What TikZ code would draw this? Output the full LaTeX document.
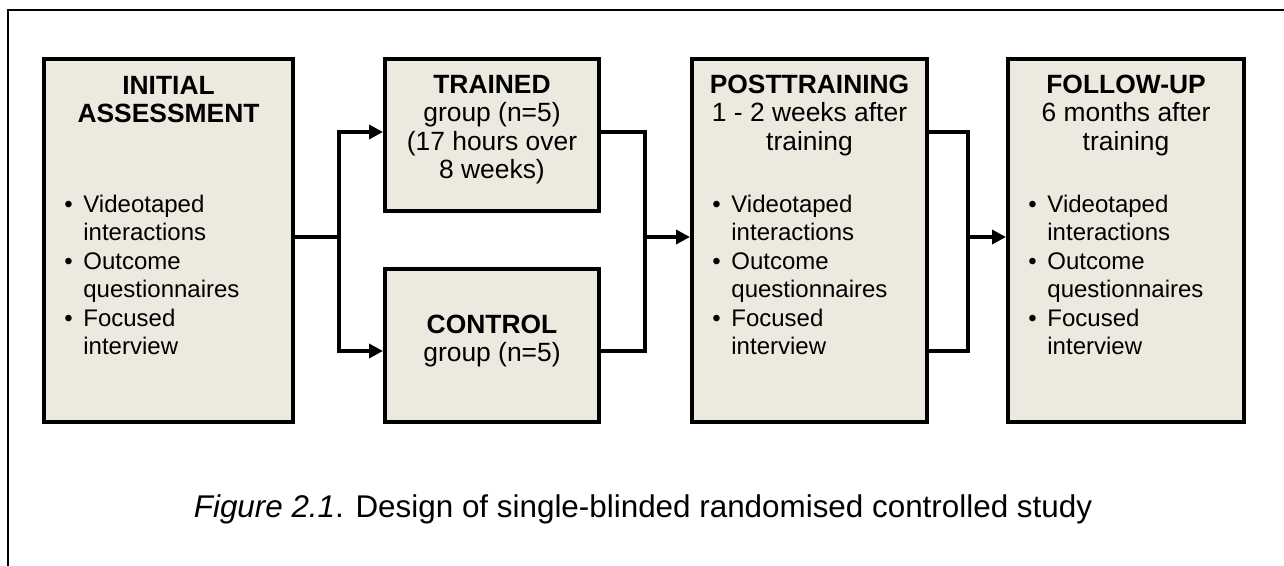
\documentclass[tikz,border=0pt]{standalone}
\usepackage{fontspec}
\setmainfont{Liberation Sans}
\usetikzlibrary{positioning,fit,arrows.meta}
\definecolor{boxfill}{RGB}{236,233,223}
\newcommand{\bitem}[2]{\makebox[9.5pt][l]{\textbullet}#1\\\hspace*{9.5pt}#2}

\begin{document}
\begin{tikzpicture}[x=0.5pt,y=-0.5pt,
  box/.style={draw,line width=2pt,fill=boxfill,inner sep=0pt},
  title/.style={align=center,inner sep=0pt,font=\fontsize{13.2}{14.25}\selectfont},
  points/.style={align=left,inner sep=0pt,font=\fontsize{12}{14.25}\selectfont},
  link/.style={line width=2pt},
  arrow/.style={link,-{Triangle[length=7pt,width=7pt]}}]

  \useasboundingbox (0,0) rectangle (1284,566);
  % frame
  \draw[line width=1pt] (1284,10) -- (8,10) -- (8,566);

  % boxes
  \node[box,fit={(44,59) (293,422)}] (init) {};
  \node[box,fit={(385,59) (599,211)}] (trained) {};
  \node[box,fit={(385,269) (599,422)}] (ctrl) {};
  \node[box,fit={(692,59) (927,422)}] (post) {};
  \node[box,fit={(1008,59) (1244,422)}] (follow) {};

  % titles
  \node[title,below=8.5pt of init.north] (initT)
    {\strut\textbf{INITIAL}\\\textbf{ASSESSMENT}};
  \node[title,below=8pt of trained.north] (trainedT)
    {\strut\textbf{TRAINED}\\group (n=5)\\(17 hours over\\8 weeks)};
  \node[title,below=23pt of ctrl.north] (ctrlT)
    {\strut\textbf{CONTROL}\\group (n=5)};
  \node[title,below=8pt of post.north] (postT)
    {\strut\textbf{POSTTRAINING}\\1 - 2 weeks after\\training};
  \node[title,below=8pt of follow.north] (followT)
    {\strut\textbf{FOLLOW-UP}\\6 months after\\training};

  % bullet lists
  \node[points,below right=67.5pt and 11pt of init.north west] (initL)
    {\strut\bitem{Videotaped}{interactions}\\\bitem{Outcome}{questionnaires}\\\bitem{Focused}{interview}};
  \node[points,below right=67.5pt and 11pt of post.north west] (postL)
    {\strut\bitem{Videotaped}{interactions}\\\bitem{Outcome}{questionnaires}\\\bitem{Focused}{interview}};
  \node[points,below right=67.5pt and 11pt of follow.north west] (followL)
    {\strut\bitem{Videotaped}{interactions}\\\bitem{Outcome}{questionnaires}\\\bitem{Focused}{interview}};

  % connectors
  \coordinate (upper) at (0,132);
  \coordinate (lower) at (0,351);
  \coordinate (split) at (339,237);
  \coordinate (join) at (645,237);
  \coordinate (join2) at (968,237);
  \draw[link] (init.east |- split) -- (split);
  \draw[arrow] (split) |- (trained.west |- upper);
  \draw[arrow] (split) |- (ctrl.west |- lower);
  \draw[link] (trained.east |- upper) -| (join) |- (ctrl.east |- lower);
  \draw[arrow] (join) -- (post.west |- join);
  \draw[link] (post.east |- upper) -| (join2) |- (post.east |- lower);
  \draw[arrow] (join2) -- (follow.west |- join2);

  % caption
  \node[font=\fontsize{15.7}{18}\selectfont,anchor=base] (caption) at (643,517)
    {\textit{Figure 2.1}. Design of single-blinded randomised controlled study};
\end{tikzpicture}
\end{document}
